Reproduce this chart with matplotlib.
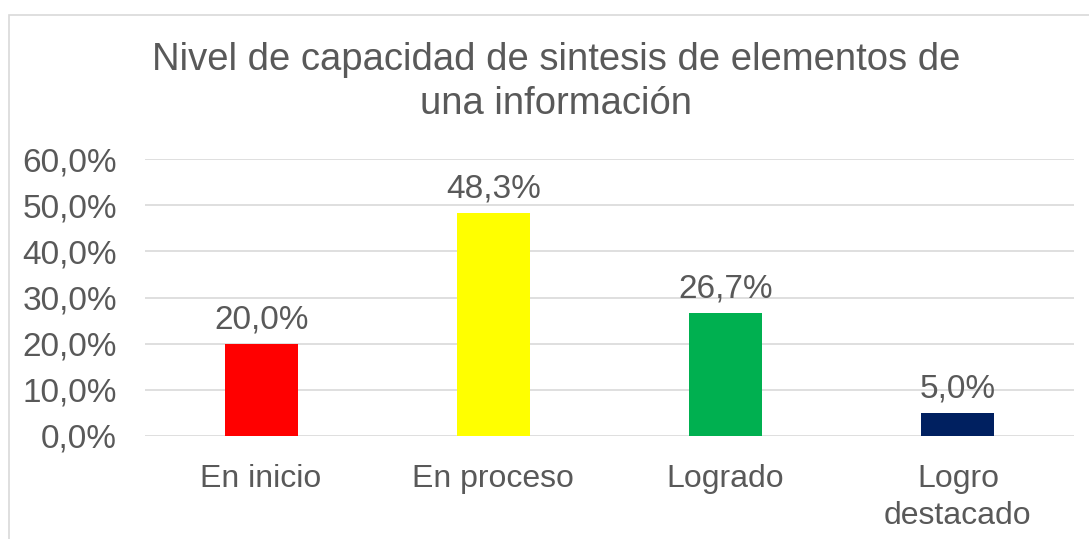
import matplotlib.pyplot as plt
from matplotlib.patches import Rectangle

categories = ['En inicio', 'En proceso', 'Logrado', 'Logro\ndestacado']
values = [20.0, 48.3, 26.7, 5.0]
colors = ['#ff0000', '#ffff00', '#00b050', '#002060']
yticks = [0, 10, 20, 30, 40, 50, 60]

plt.rcParams['font.family'] = ['Liberation Sans', 'DejaVu Sans']
text_color = '#595959'

fig = plt.figure(figsize=(10.89, 5.39), dpi=100)
ax = fig.add_axes([145 / 1089, 1 - 436 / 539, (1074 - 145) / 1089, (436 - 159) / 539])

x = range(len(categories))
bars = ax.bar(x, values, width=0.315, color=colors, zorder=3)
ax.bar_label(bars, labels=[f'{v:.1f}%'.replace('.', ',') for v in values],
             padding=6, fontsize=24, color=text_color)

ax.set_xlim(-0.5, len(categories) - 0.5)
ax.set_ylim(0, 60)
ax.set_yticks(yticks)
ax.set_yticklabels([f'{t:.1f}%'.replace('.', ',') for t in yticks])
ax.set_xticks(list(x))
ax.set_xticklabels(categories, linespacing=1.3)
ax.tick_params(axis='y', length=0, pad=20, labelsize=24, labelcolor=text_color)
ax.tick_params(axis='x', length=0, pad=20, labelsize=23, labelcolor=text_color)
ax.grid(axis='y', color='#d9d9d9', linewidth=1.2, zorder=0)
for s in ax.spines.values():
    s.set_visible(False)

fig.text(556 / 1089, 1 - 82 / 539,
         'Nivel de capacidad de sintesis de elementos de\nuna información',
         ha='center', va='center', fontsize=27.5, color=text_color, linespacing=1.32)

fig.patches.append(Rectangle((9 / 1089, -0.1), 1.2, 1 - 15 / 539 + 0.1,
                             transform=fig.transFigure, fill=False,
                             edgecolor='#d9d9d9', linewidth=1.2))

fig.savefig('out.png', dpi=100)
